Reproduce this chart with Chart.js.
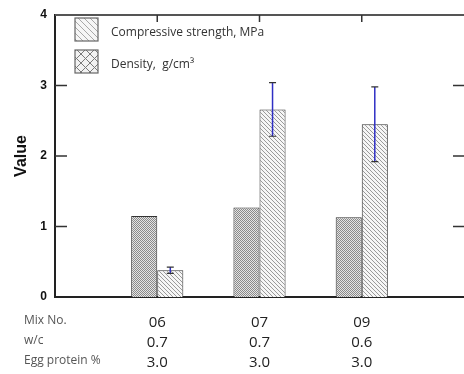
<!DOCTYPE html>
<html>
<head>
<meta charset="utf-8">
<script src="https://cdn.jsdelivr.net/npm/chart.js@4/dist/chart.umd.min.js"></script>
<style>
  html, body { margin: 0; padding: 0; background: #fff; }
  #wrap { width: 464px; height: 374px; position: relative; }
</style>
</head>
<body>
<div id="wrap"><canvas id="myChart"></canvas></div>
<script>
const mixNo = ['', '06', '07', '09', ''];
const wcRatio = ['', '0.7', '0.7', '0.6', ''];
const eggProtein = ['', '3.0', '3.0', '3.0', ''];
const rowHeaders = ['Mix No.', 'w/c', 'Egg protein %'];
const density = [null, 1.15, 1.27, 1.13, null];
const strength = [null, 0.38, 2.66, 2.45, null];
const strengthErr = [null, 0.045, 0.38, 0.53, null];
const yTicks = [0, 1, 2, 3, 4];
const legendNames = ['Compressive strength, MPa', 'Density,  g/cm³'];

function hatch(size, cross, bg, fg) {
    const c = document.createElement('canvas');
    c.width = c.height = size;
    const g = c.getContext('2d');
    g.fillStyle = bg;
    g.fillRect(0, 0, size, size);
    g.strokeStyle = fg;
    g.lineWidth = 1;
    g.beginPath();
    g.moveTo(-1, -1); g.lineTo(size + 1, size + 1);
    g.moveTo(-1, size - 1); g.lineTo(1, size + 1);
    g.moveTo(size - 1, -1); g.lineTo(size + 1, 1);
    if (cross) {
        g.moveTo(-1, size + 1); g.lineTo(size + 1, -1);
        g.moveTo(-1, 1); g.lineTo(1, -1);
        g.moveTo(size - 1, size + 1); g.lineTo(size + 1, size - 1);
    }
    g.stroke();
    return g.createPattern(c, 'repeat');
}

function checker(dark, light) {
    const c = document.createElement('canvas');
    c.width = c.height = 2;
    const g = c.getContext('2d');
    g.fillStyle = light;
    g.fillRect(0, 0, 2, 2);
    g.fillStyle = dark;
    g.fillRect(0, 0, 1, 1);
    g.fillRect(1, 1, 1, 1);
    return g.createPattern(c, 'repeat');
}

const strengthFill = hatch(4, false, '#f6f6f6', '#9a9a9a');
const densityFill = checker('#8a8a8a', '#e4e4e4');
const strengthLegend = hatch(6, false, '#f6f6f6', '#a8a8a8');
const densityLegend = hatch(9, true, '#f2f2f2', '#7a7a7a');

const labels = mixNo.map((m, i) => [m, wcRatio[i], eggProtein[i]]);

const decor = {
    id: 'decor',
    afterDatasetsDraw(chart) {
        const ctx = chart.ctx;
        const a = chart.chartArea;
        const x = chart.scales.x, y = chart.scales.y;
        ctx.save();
        // top frame
        ctx.strokeStyle = '#555';
        ctx.lineWidth = 2;
        ctx.beginPath();
        ctx.moveTo(a.left, a.top); ctx.lineTo(a.right, a.top);
        ctx.stroke();
        // inner ticks
        ctx.strokeStyle = '#333';
        ctx.lineWidth = 1.5;
        ctx.beginPath();
        yTicks.slice(1, -1).forEach(v => {
            const py = y.getPixelForValue(v);
            ctx.moveTo(a.left, py); ctx.lineTo(a.left + 12, py);
            ctx.moveTo(a.right, py); ctx.lineTo(a.right - 11, py);
        });
        [1, 2, 3].forEach(i => {
            const px = x.getPixelForValue(i);
            ctx.moveTo(px, a.top); ctx.lineTo(px, a.top + 7);
        });
        ctx.stroke();
        // error bars
        const meta = chart.getDatasetMeta(1);
        meta.data.forEach((el, i) => {
            if (strength[i] == null) return;
            const top = y.getPixelForValue(strength[i] + strengthErr[i]);
            const bot = y.getPixelForValue(strength[i] - strengthErr[i]);
            ctx.strokeStyle = '#2f2fc4';
            ctx.lineWidth = 1.5;
            ctx.beginPath();
            ctx.moveTo(el.x, top); ctx.lineTo(el.x, bot);
            ctx.stroke();
            ctx.strokeStyle = '#333';
            ctx.lineWidth = 1.2;
            ctx.beginPath();
            ctx.moveTo(el.x - 3.5, top); ctx.lineTo(el.x + 3.5, top);
            ctx.moveTo(el.x - 3.5, bot); ctx.lineTo(el.x + 3.5, bot);
            ctx.stroke();
        });
        // legend
        const fills = [strengthLegend, densityLegend];
        ctx.font = '12px "Open Sans"';
        ctx.textBaseline = 'middle';
        ctx.textAlign = 'left';
        fills.forEach((f, i) => {
            const by = a.top + 3 + i * 32;
            ctx.fillStyle = f;
            ctx.fillRect(a.left + 20, by, 23, 23);
            ctx.strokeStyle = '#666';
            ctx.lineWidth = 1.2;
            ctx.strokeRect(a.left + 20, by, 23, 23);
            ctx.fillStyle = '#333';
            ctx.fillText(legendNames[i], a.left + 56, by + 15);
        });
        // row headers of the table under the axis
        ctx.font = '12px "Open Sans"';
        ctx.fillStyle = '#555';
        rowHeaders.forEach((t, i) => {
            ctx.fillText(t, 24, a.bottom + 24 + i * 20);
        });
        ctx.restore();
    }
};

new Chart(document.getElementById('myChart'), {
    type: 'bar',
    data: {
        labels: labels,
        datasets: [{
            label: legendNames[1],
            data: density,
            backgroundColor: densityFill,
            borderColor: '#333',
            borderWidth: 1
        }, {
            label: legendNames[0],
            data: strength,
            backgroundColor: strengthFill,
            borderColor: '#333',
            borderWidth: 1
        }]
    },
    options: {
        responsive: true,
        maintainAspectRatio: false,
        animation: false,
        layout: { padding: { top: 15, right: 0, left: 0, bottom: 0 } },
        plugins: { legend: { display: false }, tooltip: { enabled: false } },
        datasets: { bar: { categoryPercentage: 0.51, barPercentage: 1 } },
        scales: {
            x: {
                offset: false,
                grid: { display: false, drawTicks: false },
                border: { display: true, color: '#222', width: 2 },
                ticks: {
                    maxRotation: 0,
                    autoSkip: false,
                    padding: 16,
                    color: '#222',
                    font: { family: '"Open Sans"', size: 15, lineHeight: 1.33 }
                },
                afterFit: s => { s.height = 77; s.paddingLeft = 0; s.paddingRight = 0; }
            },
            y: {
                min: 0,
                max: 4,
                grid: { display: false, drawTicks: false },
                border: { display: true, color: '#222', width: 2 },
                afterBuildTicks: s => { s.ticks = yTicks.map(v => ({ value: v })); },
                ticks: {
                    padding: 8,
                    color: '#111',
                    font: { family: '"Liberation Sans"', size: 12, weight: 'bold' }
                },
                title: {
                    display: true,
                    text: 'Value',
                    color: '#111',
                    padding: { top: 12, bottom: 0 },
                    font: { family: '"Liberation Sans"', size: 16, weight: 'bold' }
                },
                afterFit: s => { s.width = 55; s.paddingTop = 0; s.paddingBottom = 0; }
            }
        }
    },
    plugins: [decor]
});
</script>
</body>
</html>
